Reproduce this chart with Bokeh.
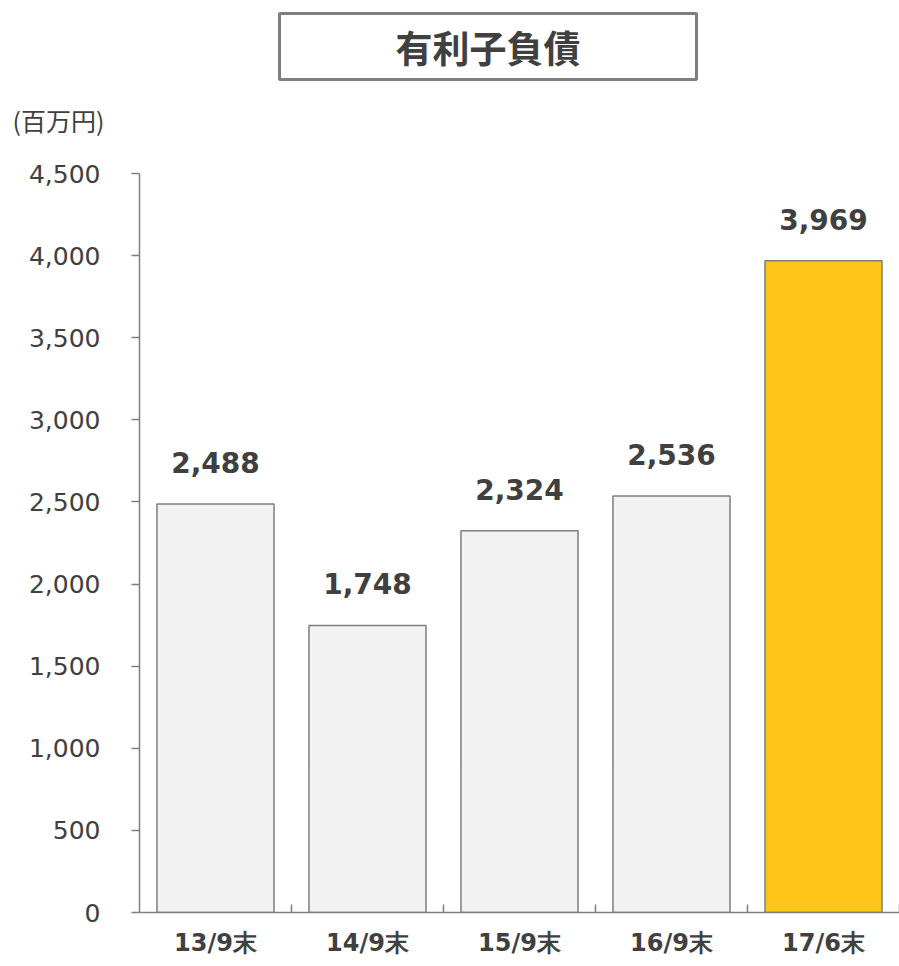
from bokeh.plotting import figure
from bokeh.models import (ColumnDataSource, Range1d, FixedTicker, NumeralTickFormatter,
                          LabelSet, Title, LinearAxis)
from bokeh.core.properties import value
from bokeh.embed import file_html
from bokeh.resources import INLINE

categories = ["13/9末", "14/9末", "15/9末", "16/9末", "17/6末"]
values = [2488, 1748, 2324, 2536, 3969]
value_labels = ["2,488", "1,748", "2,324", "2,536", "3,969"]
bar_colors = ["#f2f2f2", "#f2f2f2", "#f2f2f2", "#f2f2f2", "#FFC519"]
y_ticks = [0, 500, 1000, 1500, 2000, 2500, 3000, 3500, 4000, 4500]
title_text = "有利子負債"
unit_text = "(百万円)"

FONT = "DejaVu Sans"
CJK = "Noto Sans CJK JP"
TXT = "#404040"
GRAY = "#7f7f7f"

xs = [i + 0.5 for i in range(len(categories))]
src = ColumnDataSource(dict(x=xs, top=values, color=bar_colors, label=value_labels))

W, H = 899, 966
LEFT, BOTTOM, TOP = 139, 54, 173
p = figure(width=W, height=H, output_backend="svg", toolbar_location=None,
           x_range=Range1d(0, len(categories)), y_range=Range1d(0, max(y_ticks)),
           x_axis_type=None, y_axis_type=None,
           min_border_left=LEFT, min_border_right=0, min_border_top=TOP, min_border_bottom=BOTTOM)
p.outline_line_color = None
p.xgrid.visible = False
p.ygrid.visible = False
p.background_fill_color = "white"
p.border_fill_color = "white"

p.vbar(x="x", top="top", width=0.77, bottom=0, source=src, fill_color="color",
       line_color=GRAY, line_width=1.5)

# y axis
yax = LinearAxis(ticker=FixedTicker(ticks=y_ticks, minor_ticks=[]),
                 formatter=NumeralTickFormatter(format="0,0"))
yax.axis_line_color = GRAY
yax.axis_line_width = 1.5
yax.major_tick_line_color = GRAY
yax.major_tick_line_width = 1.5
yax.major_tick_out = 8
yax.major_tick_in = 0
yax.minor_tick_line_color = None
yax.major_label_standoff = 31
yax.major_label_text_font = FONT
yax.major_label_text_font_size = "25px"
yax.major_label_text_color = TXT
p.add_layout(yax, "left")

# x axis
xax = LinearAxis(ticker=FixedTicker(ticks=xs, minor_ticks=list(range(1, len(categories) + 1))))
xax.major_label_overrides = {x: c for x, c in zip(xs, categories)}
xax.axis_line_color = GRAY
xax.axis_line_width = 1.5
xax.major_tick_line_color = None
xax.minor_tick_line_color = GRAY
xax.minor_tick_line_width = 1.5
xax.minor_tick_in = 8
xax.minor_tick_out = 0
xax.major_label_standoff = 10
xax.major_label_text_font = FONT
xax.major_label_text_font_style = "bold"
xax.major_label_text_font_size = "24px"
xax.major_label_text_color = TXT
p.add_layout(xax, "below")

# value labels
labels = LabelSet(x="x", y="top", text="label", source=src, text_align="center",
                  text_baseline="alphabetic", y_offset=31, text_font=value(FONT),
                  text_font_style="bold", text_font_size="28px", text_color=TXT)
p.add_layout(labels)

# top panel, stacked outward from the frame: spacer, unit label, spacer, boxed title
p.add_layout(Title(text=" ", text_font_size="1px", standoff=33), "above")
p.add_layout(Title(text=unit_text, align="left", offset=12 - LEFT, standoff=0,
                   vertical_align="bottom",
                   text_font=CJK, text_font_size="25px", text_font_style="normal",
                   text_color=TXT), "above")
p.add_layout(Title(text=" ", text_font_size="1px", standoff=17), "above")
p.add_layout(Title(text=title_text, align="left", offset=279 - LEFT, standoff=0,
                   vertical_align="bottom",
                   text_font=CJK, text_font_style="bold", text_font_size="37px", text_color=TXT,
                   padding=(116, 6), border_line_color=GRAY, border_line_width=3,
                   background_fill_color="white"), "above")

open("out.html", "w").write(file_html(p, INLINE))
